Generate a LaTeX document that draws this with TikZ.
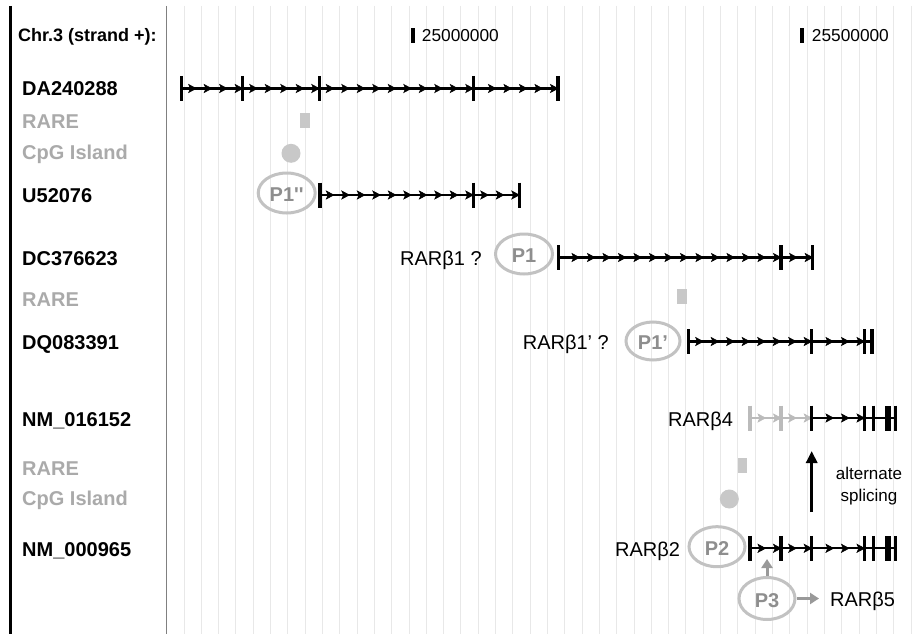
\documentclass[tikz,border=0pt]{standalone}
\usepackage{fontspec}
\setmainfont{Liberation Sans}
\usetikzlibrary{shapes.geometric,arrows.meta}
\definecolor{gridc}{HTML}{E8E8E8}
\definecolor{lblgray}{HTML}{AAAAAA}
\definecolor{featc}{HTML}{C8C8C8}
\definecolor{ellc}{HTML}{C2C2C2}
\definecolor{promtxt}{HTML}{8E8E8E}
\definecolor{arrg}{HTML}{999999}
\definecolor{trkgray}{HTML}{BBBBBB}
\definecolor{divc}{HTML}{808080}
% track helpers
\newcommand\trkHead[3]{\filldraw[#1,line width=0.6pt,line join=miter] (#2,#3) -- ++(-7.5,-4) -- ++(1.8,4) -- ++(-1.8,4) -- cycle;}
\newcommand\trkSeg[4]{%
  \draw[#1,line width=2.2pt] (#3,#2) -- (#4,#2);
  \pgfmathtruncatemacro\trkN{(#4-#3-8)/15.5}%
  \foreach \k in {0,...,\trkN}{\pgfmathsetmacro\trkX{#4-15.5*\k}\trkHead{#1}{\trkX}{#2}}%
}
\newcommand\trkLine[4]{\draw[#1,line width=2.2pt] (#3,#2) -- (#4,#2);}
\newcommand\trkTick[3]{\draw[#1,line width=3.2pt] (#3,#2-12.5) -- (#3,#2+12.5);}
\newcommand\trkBlock[4]{\fill[#1] (#3,#2-12.5) rectangle (#4,#2+12.5);}
\tikzset{
  lbl/.style={font=\fontsize{20}{24}\selectfont\bfseries, anchor=base west, inner sep=0pt},
  glbl/.style={lbl, text=lblgray},
  iso/.style={font=\fontsize{20}{24}\selectfont, anchor=base west, inner sep=0pt},
  scl/.style={font=\fontsize{17.3}{20}\selectfont, anchor=base west, inner sep=0pt},
  prom/.style={ellipse, draw=ellc, line width=3pt, text=promtxt, inner sep=0pt,
    text height=17pt, text depth=0pt,
    font=\fontsize{20}{24}\selectfont\bfseries},
  rare/.style={fill=featc},
  cpg/.style={fill=featc},
  grayarr/.style={draw=arrg, line width=3pt, -{Triangle[length=9pt,width=11pt]}},
}
\begin{document}
\begin{tikzpicture}[x=1pt,y=-1pt]
\useasboundingbox (0,0) rectangle (921,634);
\fill[white] (0,0) rectangle (921,634);
% grid
\foreach \i in {0,...,42}{\draw[gridc,line width=1pt] ({184+17.31*\i},6) -- ({184+17.31*\i},634);}
\draw[black,line width=2.8pt] (10.5,6) -- (10.5,634);
\draw[divc,line width=1.2pt] (166.7,6) -- (166.7,634);
% header and scale
\node[lbl, font=\fontsize{18}{22}\selectfont\bfseries] (hdr) at (18,41.7) {Chr.3 (strand +):};
\fill (411,28.3) rectangle (415,42.7);
\node[scl] (s1) at (421.7,41.7) {25000000};
\fill (800,28.3) rectangle (804,42.7);
\node[scl] (s2) at (811.7,41.7) {25500000};
% row labels
\node[lbl]  (l1)  at (22,95.7)  {DA240288};
\node[glbl] (l2)  at (22,128.5) {RARE};
\node[glbl] (l3)  at (22,159.5) {CpG Island};
\node[lbl]  (l4)  at (22,202.7) {U52076};
\node[lbl]  (l5)  at (22,265)   {DC376623};
\node[glbl] (l6)  at (22,306)   {RARE};
\node[lbl]  (l7)  at (22,349.3) {DQ083391};
\node[lbl]  (l8)  at (22,426)   {NM\_016152};
\node[glbl] (l9)  at (22,475)   {RARE};
\node[glbl] (l10) at (22,505)   {CpG Island};
\node[lbl]  (l11) at (22,556.7) {NM\_000965};
% DA240288
\trkSeg{black}{88.5}{181.7}{242.7}
\trkSeg{black}{88.5}{242.7}{319.3}
\trkSeg{black}{88.5}{319.3}{473.3}
\trkSeg{black}{88.5}{473.3}{558}
\foreach \x in {181.7,242.7,319.3,473.3,558}{\trkTick{black}{88.5}{\x}}
% RARE / CpG
\fill[rare] (300,112.7) rectangle (310,127.7);
\fill[cpg] (291,153.3) circle (9.5);
% U52076
\node[prom, minimum width=57pt, minimum height=40pt] (p1pp) at (286.7,193) {P1\textquotesingle\textquotesingle};
\trkSeg{black}{195}{320}{473.3}
\trkSeg{black}{195}{473.3}{519.3}
\foreach \x in {320,473.3,519.3}{\trkTick{black}{195}{\x}}
% DC376623
\node[iso] (r1) at (400,265) {RARβ1 ?};
\node[prom, minimum width=57pt, minimum height=40pt] (p1) at (524,254) {P1};
\trkSeg{black}{257.5}{558.3}{781}
\trkSeg{black}{257.5}{781}{812.7}
\foreach \x in {558.3,781,812.7}{\trkTick{black}{257.5}{\x}}
\fill[rare] (676.7,289) rectangle (686.7,304);
% DQ083391
\node[iso] (r1p) at (522.7,349.3) {RARβ1' ?};
\node[prom, minimum width=54pt, minimum height=38pt] (p1p) at (653,341) {P1’};
\trkSeg{black}{341.5}{688.3}{811.7}
\trkSeg{black}{341.5}{811.7}{864.5}
\trkLine{black}{341.5}{864.5}{872}
\foreach \x in {688.3,811.7,864.5,872}{\trkTick{black}{341.5}{\x}}
% NM_016152
\node[iso] (r4) at (668,426) {RARβ4};
\trkSeg{trkgray}{418}{750}{781}
\trkSeg{trkgray}{418}{781}{811.7}
\trkTick{trkgray}{418}{750}
\trkTick{trkgray}{418}{781}
\trkSeg{black}{418}{811.7}{864.5}
\trkLine{black}{418}{864.5}{895.5}
\foreach \x in {811.7,864.5,873.3,895.5}{\trkTick{black}{418}{\x}}
\trkBlock{black}{418}{885}{891}
\fill[rare] (737.7,458) rectangle (747.3,473);
\fill[cpg] (729.3,499) circle (9.5);
% alternate splicing
\coordinate (asb) at (811.7,512);
\coordinate (ast) at (811.7,451);
\draw[line width=3pt,-{Triangle[length=12pt,width=11pt]}] (asb) -- (ast);
\node[font=\fontsize{17}{21.5}\selectfont, align=center] (alt) at (869,486) {alternate\\splicing};
% NM_000965
\node[iso] (r2) at (615,556.7) {RARβ2};
\node[prom, minimum width=56pt, minimum height=40pt] (p2) at (717,546.7) {P2};
\trkSeg{black}{548.3}{750}{781}
\trkSeg{black}{548.3}{781}{811.7}
\trkSeg{black}{548.3}{811.7}{864.5}
\trkLine{black}{548.3}{864.5}{895.5}
\foreach \x in {750,781,811.7,864.5,873.3,895.5}{\trkTick{black}{548.3}{\x}}
\trkBlock{black}{548.3}{885}{891}
% P3
\node[prom, minimum width=56pt, minimum height=42pt] (p3) at (767,598.5) {P3};
\coordinate (p3up) at (767,559);
\coordinate (p3rt) at (819,598.5);
\draw[grayarr] (p3.north) -- (p3up);
\draw[grayarr] (p3.east) -- (p3rt);
\node[iso] (r5) at (830,606) {RARβ5};
\end{tikzpicture}
\end{document}
